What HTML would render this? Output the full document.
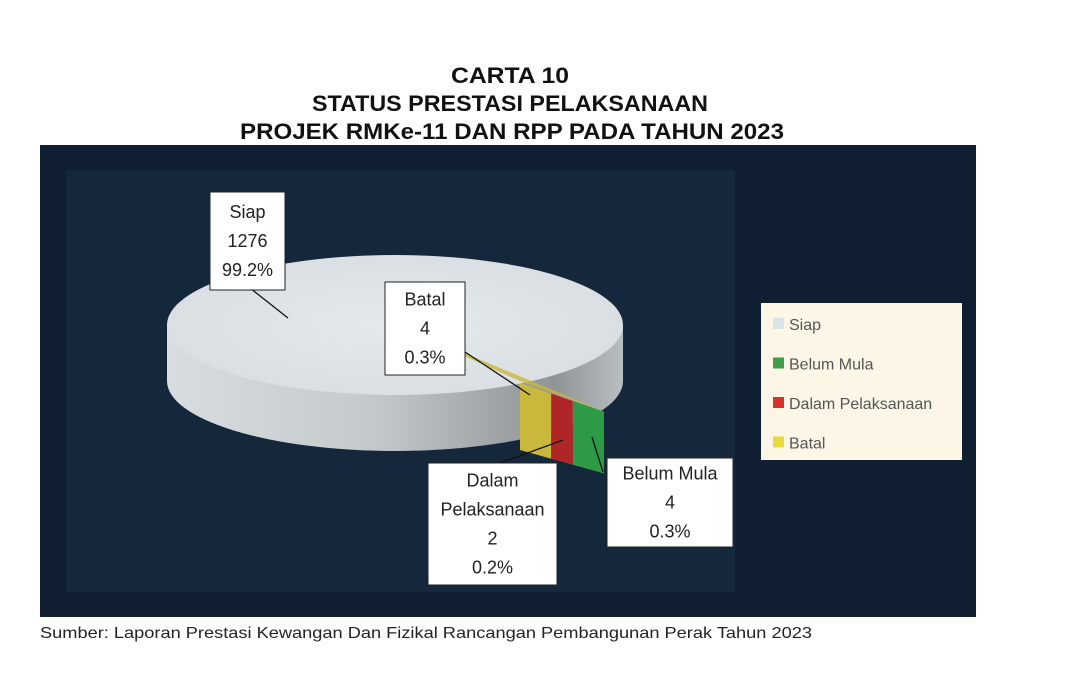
<!DOCTYPE html>
<html><head><meta charset="utf-8"><style>
body{margin:0;width:1089px;height:690px;background:#fff;overflow:hidden;font-family:"Liberation Sans",sans-serif;}
svg{display:block}
</style></head><body>
<svg width="1089" height="690">
<defs>
<linearGradient id="side" x1="0" x2="1" y1="0" y2="0">
<stop offset="0" stop-color="#d8dde0"/><stop offset="0.45" stop-color="#c4c9cc"/><stop offset="0.85" stop-color="#8f9497"/><stop offset="1" stop-color="#b9bec1"/></linearGradient>
<radialGradient id="topg" cx="0.5" cy="0.5" r="0.6"><stop offset="0" stop-color="#e4e9ec"/><stop offset="1" stop-color="#d7dde1"/></radialGradient>
</defs>
<g font-weight="bold" font-size="22" text-anchor="middle" fill="#111">
<text x="510" y="83" textLength="118" lengthAdjust="spacingAndGlyphs">CARTA 10</text>
<text x="510" y="111" textLength="396" lengthAdjust="spacingAndGlyphs">STATUS PRESTASI PELAKSANAAN</text>
<text x="512" y="139" textLength="544" lengthAdjust="spacingAndGlyphs">PROJEK RMKe-11 DAN RPP PADA TAHUN 2023</text>
</g>
<rect x="40" y="145" width="936" height="472" fill="#0f1e30"/>
<rect x="66" y="170" width="669" height="422" fill="#15273a"/>
<g id="pie"></g>
<g id="labels"></g>
<g>
<rect x="761" y="303" width="201" height="157" fill="#fdf6e7"/>
<g id="legend" font-size="16" fill="#555"></g>
</g>
<text x="40" y="638" font-size="16" fill="#222" textLength="772" lengthAdjust="spacingAndGlyphs">Sumber: Laporan Prestasi Kewangan Dan Fizikal Rancangan Pembangunan Perak Tahun 2023</text>
</svg>
<script>
const categories=["Siap","Belum Mula","Dalam Pelaksanaan","Batal"];
const values=[1276,4,2,4];
const percents=["99.2%","0.3%","0.2%","0.3%"];
const colors=["#dde3e8","#2f9a45","#b02626","#c9b83b"];
const NS="http://www.w3.org/2000/svg";
function mk(t,a,p){const e=document.createElementNS(NS,t);for(const k in a)e.setAttribute(k,a[k]);p.appendChild(e);return e;}
const pieG=document.getElementById('pie');
const cx=395,cy=325,rx=228,ry=70,th=56;
const sideEl=mk('path',{d:`M${cx-rx},${cy} L${cx-rx},${cy+th} A${rx},${ry} 0 0 0 ${cx+rx},${cy+th} L${cx+rx},${cy} Z`,fill:'url(#side)'},pieG);


const topEl=mk('ellipse',{cx:cx,cy:cy,rx:rx,ry:ry,fill:'url(#topg)'},pieG);


const order=[3,2,1];
let px=520;
const faceW=v=>12+v*4.8;
order.forEach((i,k)=>{
  const w=faceW(values[i]);
  const t0=383+(px-520)*0.34, t1=383+(px+w-520)*0.34;
  const b0=450+(px-520)*0.28, b1=450+(px+w-520)*0.28;
  const p=mk('polygon',{points:`${px},${t0} ${px+w},${t1} ${px+w},${b1} ${px},${b0}`,fill:colors[i]},pieG);
  
  
  px+=w;
});
mk('polygon',{points:`455,352 520,381 ${px},${383+(px-520)*0.34} 462,352`,fill:'#c9b83b',opacity:0.8},pieG);
const L=document.getElementById('labels');
const boxes=[
 {i:0,x:210,y:192,w:75,h:98,lx:288,ly:318,ax:250,ay:288},
 {i:3,x:385,y:282,w:80,h:93,lx:530,ly:395,ax:465,ay:352},
 {i:2,x:428,y:463,w:129,h:122,lx:563,ly:440,ax:495,ay:465,two:true},
 {i:1,x:607,y:458,w:126,h:89,lx:592,ly:437,ax:603,ay:472}
];
boxes.forEach(b=>{
  const g=mk('g',{},L);
  
  
  mk('line',{x1:b.ax,y1:b.ay,x2:b.lx,y2:b.ly,stroke:'#111','stroke-width':1.3},g);
  mk('rect',{x:b.x,y:b.y,width:b.w,height:b.h,fill:'#fff',stroke:'#222'},g);
  const lines=b.two?["Dalam","Pelaksanaan",String(values[b.i]),percents[b.i]]:[categories[b.i],String(values[b.i]),percents[b.i]];
  const lh=29, y0=b.y+b.h/2-(lines.length-1)*lh/2+6;
  lines.forEach((s,j)=>{const t=mk('text',{x:b.x+b.w/2,y:y0+j*lh,'text-anchor':'middle','font-size':18,fill:'#222'},g);t.textContent=s;});
});
const lg=document.getElementById('legend');
const legColors=['#dbe3ea','#3ea14a','#d9312d','#e8dc3c'];
[0,1,2,3].forEach((i,k)=>{
  const g=mk('g',{},lg);
  
  
  const y=324+k*39.5;
  mk('rect',{x:773,y:y-6,width:11,height:11,fill:legColors[i]},g);
  const t=mk('text',{x:789,y:y+6},g);t.textContent=categories[i];
});
</script>
</body></html>
